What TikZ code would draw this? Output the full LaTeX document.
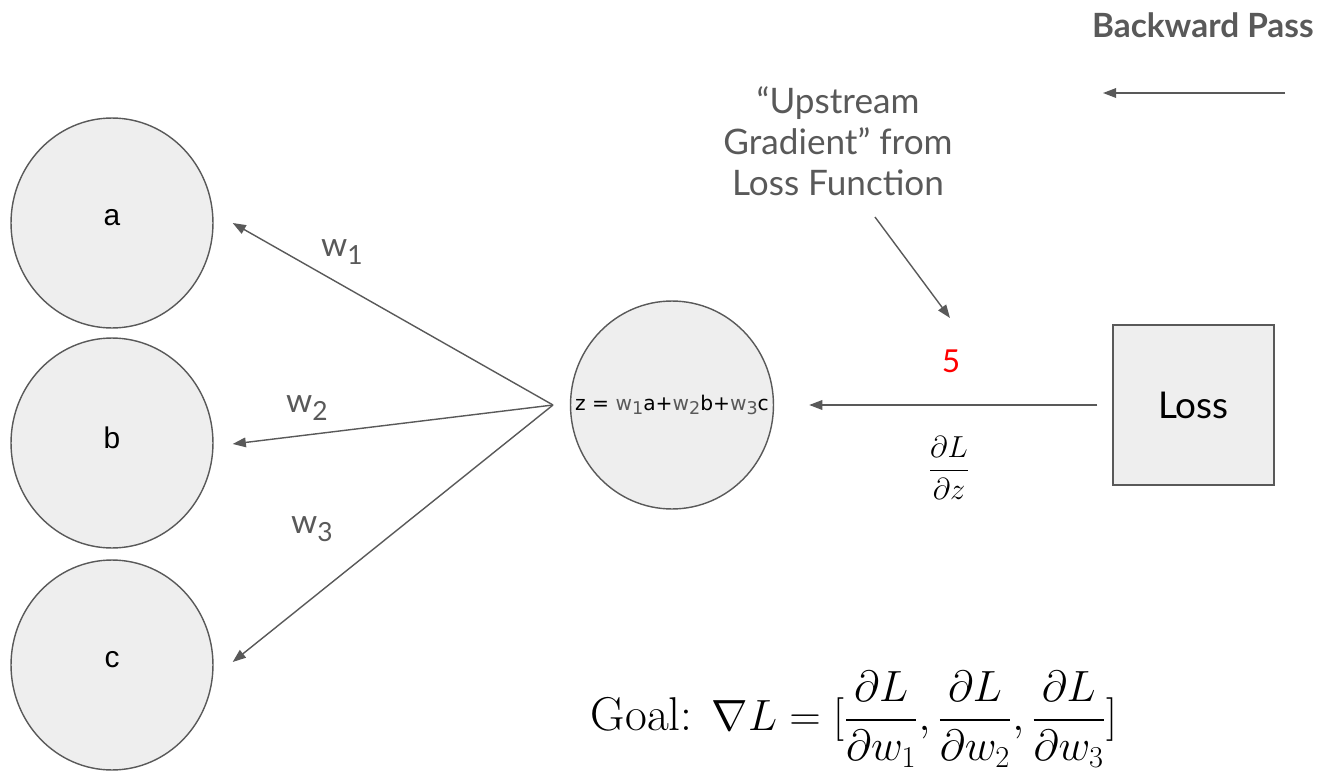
\documentclass[tikz,border=0pt]{standalone}
\usepackage[no-math]{fontspec}
\usepackage{amsmath}
\newfontfamily\uifont{Lato}
\newfontfamily\nodefont{Liberation Sans}
\newfontfamily\eqfont{DejaVu Sans}
\usetikzlibrary{
  arrows.meta,
  positioning,
  shapes.geometric
}
\definecolor{edgegray}{RGB}{89, 89, 89}
\definecolor{nodefill}{RGB}{238, 238, 238}
\definecolor{gradred}{RGB}{255, 0, 0}

\begin{document}
\begin{tikzpicture}[x=0.02cm, y=-0.02cm,
  unit/.style={ellipse, draw=edgegray, line width=0.8pt, fill=nodefill, inner sep=0pt,
    minimum width=4.04cm, minimum height=4.2cm, font=\nodefont\fontsize{17}{20}\selectfont},
  wire/.style={draw=edgegray, line width=0.8pt, -{Triangle[length=7.5pt, width=5.5pt]}},
  weight/.style={text=edgegray, font=\uifont\fontsize{19}{22}\selectfont},
  note/.style={text=edgegray, font=\uifont\fontsize{20}{23.5}\selectfont, align=center}
]
  \useasboundingbox (0, 0) rectangle (1320, 771);

  % input units
  \node[unit] (a) at (112, 223) {};
  \node[unit] (b) at (112, 443) {};
  \node[unit] (c) at (112, 665) {};
  \node[font=\nodefont\fontsize{17}{20}\selectfont] (alab) at (112, 218) {a};
  \node[font=\nodefont\fontsize{17}{20}\selectfont] (blab) at (112, 438) {b};
  \node[font=\nodefont\fontsize{17}{20}\selectfont] (clab) at (112, 660) {c};

  % summing unit and loss
  \node[unit, minimum width=4.06cm, minimum height=4.16cm] (z) at (672, 405) {};
  \node[font=\eqfont\fontsize{11.5}{13}\selectfont, inner sep=0pt] (zeq) at (z.center)
    {z = \textcolor{edgegray}{w\raisebox{-0.35ex}{\fontsize{10}{12}\selectfont 1}}a+\textcolor{edgegray}{w\raisebox{-0.35ex}{\fontsize{10}{12}\selectfont 2}}b+\textcolor{edgegray}{w\raisebox{-0.35ex}{\fontsize{10}{12}\selectfont 3}}c};
  \node[rectangle, draw=edgegray, line width=0.8pt, fill=nodefill, minimum width=3.22cm, minimum height=3.2cm,
    font=\uifont\fontsize{21}{24}\selectfont] (loss) at (1193.5, 405) {Loss};

  % backward connectors
  \coordinate (jn) at (553, 405);
  \draw[wire] (jn) -- ([xshift=0.38cm]a.east);
  \draw[wire] (jn) -- ([xshift=0.38cm, yshift=-0.02cm]b.east);
  \draw[wire] (jn) -- ([xshift=0.38cm, yshift=0.06cm]c.east);
  \draw[wire, shorten <=0.3cm, shorten >=0.7cm] (loss.west) -- (z.east);

  % weights
  \node[weight] (w1) at (342, 252) {w\raisebox{-0.5ex}{\fontsize{15}{18}\selectfont 1}};
  \node[weight] (w2) at (307, 408) {w\raisebox{-0.5ex}{\fontsize{15}{18}\selectfont 2}};
  \node[weight] (w3) at (312, 529) {w\raisebox{-0.5ex}{\fontsize{15}{18}\selectfont 3}};

  % gradient labels
  \node[text=gradred, font=\uifont\fontsize{18}{21}\selectfont] (five) at (951, 361) {5};
  \node[font=\fontsize{16}{19}\selectfont] (dldz) at (949, 468) {$\dfrac{\partial L}{\partial z}$};
  \node[note] (up) at (838, 141) {“Upstream\\Gradient” from\\Loss Function};
  \coordinate (upfrom) at (875, 217);
  \coordinate (upto) at (950, 318);
  \draw[wire] (upfrom) -- (upto);

  % direction
  \node[anchor=east, inner sep=0pt, text=edgegray, font=\uifont\bfseries\fontsize{19}{22}\selectfont] (pass) at (1314, 25) {Backward Pass};
  \coordinate (bwfrom) at (1285, 93);
  \coordinate (bwto) at (1103, 93);
  \draw[wire] (bwfrom) -- (bwto);

  % goal
  \node[font=\fontsize{27}{32}\selectfont] (goal) at (854, 719)
    {Goal: $\nabla L = [\dfrac{\partial L}{\partial w_1}, \dfrac{\partial L}{\partial w_2}, \dfrac{\partial L}{\partial w_3}]$};
\end{tikzpicture}
\end{document}
